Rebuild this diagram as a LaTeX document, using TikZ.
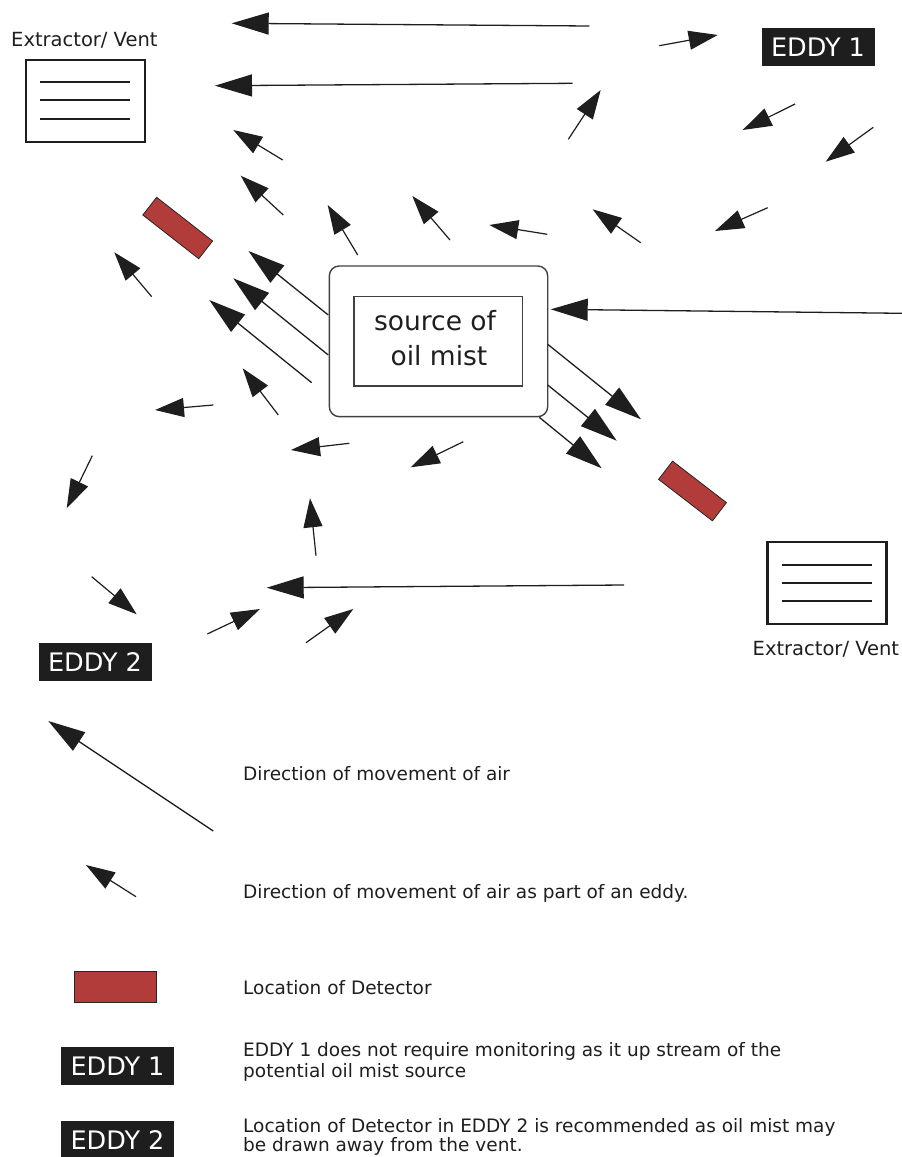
\documentclass[tikz,border=0pt]{standalone}
\usepackage{fontspec}
\setmainfont{DejaVu Sans}
\usetikzlibrary{arrows.meta}
\definecolor{detred}{RGB}{178,60,58}
\definecolor{ink}{RGB}{30,30,30}
\begin{document}
\begin{tikzpicture}[x=1pt,y=-1pt,
  flow/.style={draw=ink, line width=1.3pt, -{Triangle[length=37pt,width=22pt]}},
  eddyarrow/.style={draw=ink, line width=1.2pt, -{Triangle[length=29pt,width=19pt]}},
  ventbox/.style={draw=ink, line width=2.4pt, minimum width=119pt, minimum height=82pt, inner sep=0},
  ventline/.style={draw=ink, line width=2.2pt},
  detector/.style={draw=black!85, line width=0.8pt, fill=detred, inner sep=0},
  eddylabel/.style={fill=ink, text=white, font=\fontsize{25.5}{30}\selectfont, minimum width=113pt, minimum height=38pt, inner sep=0},
  lbl/.style={font=\fontsize{19.5}{23}\selectfont, text=ink, inner sep=0, anchor=base west},
  legend/.style={font=\fontsize{18.5}{21}\selectfont, text=ink, inner sep=0, anchor=base west},
  srctext/.style={font=\fontsize{26.5}{35}\selectfont, text=ink, inner sep=0, anchor=base},
]
\useasboundingbox (0,0) rectangle (902,1157);

% ---------- extractors / vents ----------
\node[lbl] (vlab1) at (11,46.5) {Extractor/ Vent};
\node[ventbox] (vent1) at (85.7,100.8) {};
\draw[ventline] (40,82) -- (130.3,82);
\draw[ventline] (40,100.3) -- (130.3,100.3);
\draw[ventline] (40,119) -- (130.3,119);

\node[ventbox] (vent2) at (827,583.2) {};
\draw[ventline] (781.7,564.7) -- (872,564.7);
\draw[ventline] (781.7,583) -- (872,583);
\draw[ventline] (781.7,601.3) -- (872,601.3);
\node[lbl] (vlab2) at (752.5,655.5) {Extractor/ Vent};

% ---------- source ----------
\node[draw=ink!85, line width=1.4pt, rounded corners=10pt, minimum width=218.4pt, minimum height=150.7pt, inner sep=0] (outer) at (438.5,341.3) {};
\node[draw=ink!85, line width=1.4pt, minimum width=168.7pt, minimum height=89.3pt, inner sep=0] (inner) at (438.3,341.3) {};
\node[srctext] (src1) at (435,330) {source of};
\node[srctext] (src2) at (439,365) {oil mist};

% ---------- detectors ----------
\node[detector, minimum width=71pt, minimum height=22.5pt, rotate=-38] (det1) at (177.7,228) {};
\node[detector, minimum width=68pt, minimum height=23pt, rotate=-37.6] (det2) at (692.5,491) {};

% ---------- eddy labels ----------
\node[eddylabel] (eddy1) at (818,47) {EDDY 1};
\node[eddylabel] (eddy2) at (95,662) {EDDY 2};

% ---------- main flow arrows ----------
\foreach \n/\tx/\ty/\hx/\hy in {
  a1/589.3/26/231.7/23.3,
  a2/572.7/83.3/215/85.7,
  l1/328.3/315/248.5/251,
  l2/328.3/355/233.3/278.3,
  l3/311.7/382.7/209.3/300,
  l4/624/585/266.7/587.7,
  l5/902/313.3/550.7/309.3,
  l6/547.7/344.3/641/419.3,
  l7/547.7/385/616.7/440.7,
  l8/539.3/417.3/601.7/468.3}{
  \coordinate (\n t) at (\tx,\ty);
  \coordinate (\n h) at (\hx,\hy);
  \draw[flow] (\n t) -- (\n h);
}

% ---------- eddy arrows ----------
\foreach \n/\tx/\ty/\hx/\hy in {
  e1/282.7/160/233.3/130,
  e2/283.3/215/240.7/175.7,
  e3/357.7/255/327.7/205,
  e4/450/240/412.3/196,
  e5/151.7/296.7/114.3/252.3,
  e6/278.3/415/242.7/368.3,
  e7/213.3/405/155/410,
  e8/349.3/443.3/291/450,
  e9/463.3/441.7/410.7/467.3,
  e10/92.3/455.7/66.7/508.3,
  e11/316/555.7/310/498.3,
  e12/91.7/576.7/136.7/614.3,
  e13/207.3/634/260/609,
  e14/306/642.7/353.3/609,
  e15/659.3/45.7/717.7/35,
  e16/568.3/139.3/600.7/90,
  e17/795/104/742.7/130,
  e18/873.3/127.3/825.7/161.7,
  e19/767.7/207.7/715/231,
  e20/640.7/242.7/592.7/209.3,
  e21/547.3/234.3/489.3/225}{
  \coordinate (\n t) at (\tx,\ty);
  \coordinate (\n h) at (\hx,\hy);
  \draw[eddyarrow] (\n t) -- (\n h);
}

% ---------- legend ----------
\coordinate (lgat) at (213.3,831);
\coordinate (lgah) at (48.3,721);
\draw[flow] (lgat) -- (lgah);
\node[legend] (lg1) at (243,780) {Direction of movement of air};

\coordinate (lgbt) at (136,896.7);
\coordinate (lgbh) at (86,865);
\draw[eddyarrow] (lgbt) -- (lgbh);
\node[legend] (lg2) at (243,898) {Direction of movement of air as part of an eddy.};

\node[detector, minimum width=81.7pt, minimum height=30.7pt] (lgdet) at (115.2,986.7) {};
\node[legend] (lg3) at (243,994) {Location of Detector};

\node[eddylabel] (lgeddy1) at (117.5,1066) {EDDY 1};
\node[legend] (lg4a) at (243,1056) {EDDY 1 does not require monitoring as it up stream of the};
\node[legend] (lg4b) at (243,1077) {potential oil mist source};

\node[eddylabel] (lgeddy2) at (117.5,1140) {EDDY 2};
\node[legend] (lg5a) at (243,1132) {Location of Detector in EDDY 2 is recommended as oil mist may};
\node[legend] (lg5b) at (243,1151.5) {be drawn away from the vent.};
\end{tikzpicture}
\end{document}
